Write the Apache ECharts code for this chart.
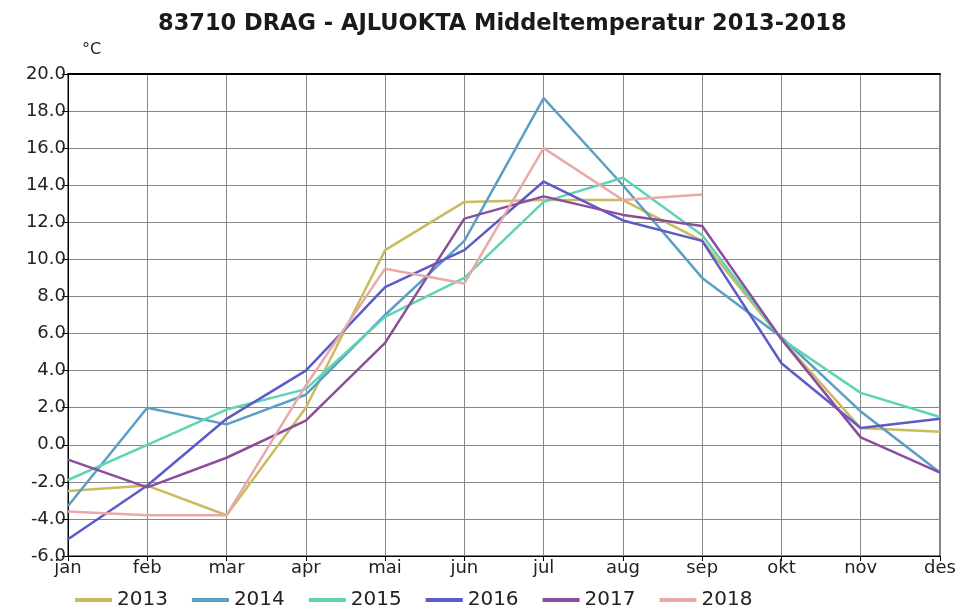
<!DOCTYPE html>
<html>
<head>
<meta charset="utf-8">
<script src="https://cdn.jsdelivr.net/npm/echarts@6/dist/echarts.min.js"></script>
<style>
  html, body { margin: 0; padding: 0; background: #fff; }
  #chart { width: 962px; height: 613px; }
</style>
</head>
<body>
<div id="chart"></div>
<script>
// måneder og verdier lest av bildet
const months = ['jan', 'feb', 'mar', 'apr', 'mai', 'jun', 'jul', 'aug', 'sep', 'okt', 'nov', 'des'];
const years = ['2013', '2014', '2015', '2016', '2017', '2018'];
const yearColors = ['#c9bb5e', '#5b9fc6', '#5fd3b3', '#5b5bc9', '#8b4d9c', '#eaa9a9'];

const t2013 = [-2.5, -2.2, -3.8, 2.0, 10.5, 13.1, 13.2, 13.2, 11.0, 5.7, 0.9, 0.7];
const t2014 = [-3.3, 2.0, 1.1, 2.7, 7.0, 11.0, 18.7, 14.0, 9.0, 5.8, 1.8, -1.5];
const t2015 = [-1.9, 0.0, 1.9, 3.0, 6.9, 9.0, 13.1, 14.4, 11.3, 5.7, 2.8, 1.5];
const t2016 = [-5.1, -2.2, 1.4, 4.0, 8.5, 10.5, 14.2, 12.1, 11.0, 4.4, 0.9, 1.4];
const t2017 = [-0.8, -2.3, -0.7, 1.3, 5.5, 12.2, 13.4, 12.4, 11.8, 5.7, 0.4, -1.5];
const t2018 = [-3.6, -3.8, -3.8, 3.2, 9.5, 8.7, 16.0, 13.2, 13.5];

const allData = [t2013, t2014, t2015, t2016, t2017, t2018];

const chart = echarts.init(document.getElementById('chart'));
const font = 'DejaVu Sans';

chart.setOption({
  animation: false,
  color: yearColors,
  title: {
    text: '83710 DRAG - AJLUOKTA Middeltemperatur 2013-2018',
    left: 153,
    top: 8,
    textStyle: { fontFamily: font, fontSize: 22.5, fontWeight: 'bold', color: '#1a1a1a' }
  },
  legend: {
    bottom: -2,
    left: 70,
    itemWidth: 37,
    itemHeight: 4,
    itemGap: 24,
    icon: 'rect',
    data: years,
    textStyle: { fontFamily: font, fontSize: 20, color: '#222' }
  },
  grid: {
    left: 68, right: 22, top: 74, bottom: 57,
    show: true, borderColor: '#000', borderWidth: 1
  },
  xAxis: [{
    type: 'category',
    boundaryGap: false,
    data: months,
    axisLine: { onZero: false, lineStyle: { color: '#000', width: 1 } },
    axisTick: { show: true, length: 5, lineStyle: { color: '#000' } },
    axisLabel: { fontFamily: font, fontSize: 18, color: '#222', margin: 3, showMaxLabel: true },
    splitLine: { show: true, lineStyle: { color: '#888', width: 1 } }
  }, {
    type: 'category',
    position: 'top',
    boundaryGap: false,
    data: months,
    axisLine: { onZero: false, lineStyle: { color: '#000', width: 2 } },
    axisTick: { show: false },
    axisLabel: { show: false }
  }],
  yAxis: {
    type: 'value',
    min: -6, max: 20, interval: 2,
    name: '°C',
    nameLocation: 'end',
    nameGap: 16,
    nameTextStyle: { fontFamily: font, fontSize: 16, color: '#222', align: 'left', padding: [0, 0, 0, 14] },
    axisLine: { show: true, lineStyle: { color: '#000' } },
    axisTick: { show: true, length: 6, lineStyle: { color: '#000' } },
    axisLabel: {
      fontFamily: font, fontSize: 18, color: '#222', margin: 2,
      formatter: v => v.toFixed(1)
    },
    splitLine: { show: true, lineStyle: { color: '#888', width: 1 } }
  },
  series: years.map((y, i) => ({
    name: y,
    type: 'line',
    data: allData[i],
    symbol: 'none',
    lineStyle: { width: 2.5, color: yearColors[i] }
  }))
});
</script>
</body>
</html>
